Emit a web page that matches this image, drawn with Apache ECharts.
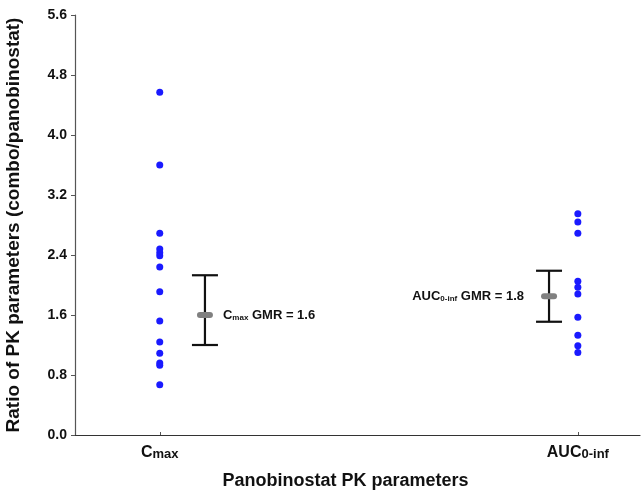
<!DOCTYPE html>
<html>
<head>
<meta charset="utf-8">
<script src="https://cdn.jsdelivr.net/npm/echarts@6/dist/echarts.min.js"></script>
<style>
  html, body { margin: 0; padding: 0; background: #fff; }
  #chart { width: 643px; height: 490px; }
</style>
</head>
<body>
<div id="chart"></div>
<script>
// parameters on the x axis (position on a 0-100 scale)
var paramNames = ['Cmax', 'AUC0-inf'];
var paramPos = [15.0, 89.0];
var barPos = [23.0, 83.9];

// individual ratios (combo / panobinostat)
var cmaxRatios = [4.57, 3.60, 2.69, 2.48, 2.43, 2.39, 2.24, 1.91, 1.52, 1.24, 1.09, 0.96, 0.93, 0.67];
var aucRatios = [2.95, 2.84, 2.69, 2.05, 1.97, 1.88, 1.57, 1.33, 1.19, 1.10];

// geometric mean ratio and 90% CI
var gmrValues = [1.6, 1.85];
var gmrLabels = ['1.6', '1.8'];
var ciLow = [1.20, 1.51];
var ciHigh = [2.13, 2.19];

var font = 'Liberation Sans, Arial, sans-serif';

var dots = [];
cmaxRatios.forEach(function(v) { dots.push([paramPos[0], v]); });
aucRatios.forEach(function(v) { dots.push([paramPos[1], v]); });

var bars = [];
for (var i = 0; i < gmrValues.length; i++) {
  bars.push([barPos[i], gmrValues[i], ciLow[i], ciHigh[i], i]);
}

var chart = echarts.init(document.getElementById('chart'));

var labelRich = {
  b: { fontFamily: font, fontWeight: 'bold', fontSize: 13, fill: '#111' },
  s: { fontFamily: font, fontWeight: 'bold', fontSize: 8, fill: '#111', padding: [5, 0, 0, 0] }
};

var option = {
  animation: false,
  backgroundColor: '#fff',
  grid: { left: 75, right: 3, top: 15, bottom: 55, outerBoundsMode: 'none' },
  xAxis: {
    type: 'value',
    min: 0,
    max: 100,
    splitLine: { show: false },
    axisLine: { show: true, onZero: false, lineStyle: { color: '#333', width: 1.2 } },
    axisTick: { show: true, inside: true, length: 3, customValues: paramPos, lineStyle: { color: '#555' } },
    axisLabel: {
      customValues: paramPos,
      margin: 10,
      formatter: function(v) {
        var idx = paramPos.indexOf(v);
        if (idx == 0) return '{b|C}{s|max}';
        if (idx == 1) return '{b|AUC}{s|0-inf}';
        return '';
      },
      rich: {
        b: { fontFamily: font, fontWeight: 'bold', fontSize: 16, color: '#111' },
        s: { fontFamily: font, fontWeight: 'bold', fontSize: 13, color: '#111', padding: [3, 0, 0, 0] }
      }
    },
    name: 'Panobinostat PK parameters',
    nameLocation: 'middle',
    nameGap: 37,
    nameTextStyle: { fontFamily: font, fontWeight: 'bold', fontSize: 18, color: '#111', padding: [0, 24, 0, 0] }
  },
  yAxis: {
    type: 'value',
    min: 0,
    max: 5.6,
    interval: 0.8,
    splitLine: { show: false },
    axisLine: { show: true, lineStyle: { color: '#555', width: 1.2 } },
    axisTick: { show: true, length: 4, lineStyle: { color: '#555' } },
    axisLabel: {
      margin: 8,
      fontFamily: font,
      fontWeight: 'bold',
      fontSize: 14,
      color: '#111',
      formatter: function(v) { return v.toFixed(1); }
    },
    name: 'Ratio of PK parameters (combo/panobinostat)',
    nameLocation: 'middle',
    nameGap: 52,
    nameTextStyle: { fontFamily: font, fontWeight: 'bold', fontSize: 19, color: '#111' }
  },
  series: [{
    type: 'scatter',
    data: dots,
    symbol: 'circle',
    symbolSize: 7,
    itemStyle: { color: '#1a1aff', opacity: 1 },
    z: 3
  }, {
    type: 'custom',
    data: bars,
    renderItem: function(params, api) {
      var x = api.value(0);
      var mid = api.coord([x, api.value(1)]);
      var lo = api.coord([x, api.value(2)]);
      var hi = api.coord([x, api.value(3)]);
      var idx = api.value(4);
      var cap = 13;
      var style = { stroke: '#111', lineWidth: 2.2 };
      var label;
      if (idx == 0) {
        label = {
          type: 'text',
          x: mid[0] + 18,
          y: mid[1],
          style: {
            text: '{b|C}{s|max}{b| GMR = ' + gmrLabels[0] + '}',
            verticalAlign: 'middle',
            align: 'left',
            rich: labelRich
          }
        };
      } else {
        label = {
          type: 'text',
          x: mid[0] - 25,
          y: mid[1],
          style: {
            text: '{b|AUC}{s|0-inf}{b| GMR = ' + gmrLabels[1] + '}',
            verticalAlign: 'middle',
            align: 'right',
            rich: labelRich
          }
        };
      }
      return {
        type: 'group',
        children: [
          { type: 'line', shape: { x1: lo[0], y1: lo[1], x2: hi[0], y2: hi[1] }, style: style },
          { type: 'line', shape: { x1: hi[0] - cap, y1: hi[1], x2: hi[0] + cap, y2: hi[1] }, style: style },
          { type: 'line', shape: { x1: lo[0] - cap, y1: lo[1], x2: lo[0] + cap, y2: lo[1] }, style: style },
          { type: 'rect', shape: { x: mid[0] - 8, y: mid[1] - 3, width: 16, height: 6, r: 3 }, style: { fill: '#808080' } },
          label
        ]
      };
    },
    z: 4
  }]
};

chart.setOption(option);
window.addEventListener('resize', function() {
  chart.resize();
});
</script>
</body>
</html>
